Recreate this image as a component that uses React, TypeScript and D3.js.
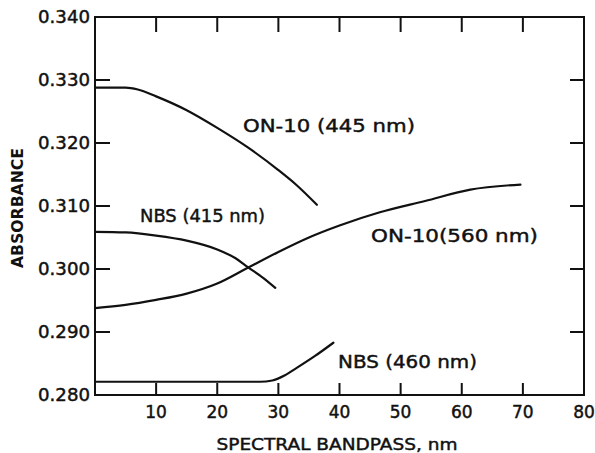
import React from "react";
import * as d3 from "d3";

const xTicks = [10, 20, 30, 40, 50, 60, 70, 80];
const yTicks = [0.28, 0.29, 0.3, 0.31, 0.32, 0.33, 0.34];
const yTickLabels = ["0.280", "0.290", "0.300", "0.310", "0.320", "0.330", "0.340"];

const on10_445: [number, number][] = [[0, 0.3288], [5, 0.3288], [7, 0.3285], [10, 0.3274], [15, 0.3252], [20, 0.3224], [25, 0.3193], [30, 0.3157], [33, 0.3133], [36.3, 0.3102]];
const nbs415: [number, number][] = [[0, 0.3059], [5, 0.3058], [10, 0.3053], [15, 0.3045], [20, 0.3031], [23, 0.3017], [25, 0.3003], [27.5, 0.2986], [29.5, 0.297]];
const on10_560: [number, number][] = [[0, 0.2938], [5, 0.2943], [10, 0.2951], [15, 0.2961], [20, 0.2977], [25, 0.3002], [30, 0.3027], [35, 0.305], [40, 0.3069], [46.6, 0.309], [54, 0.3108], [61.4, 0.3126], [69.6, 0.3134]];
const nbs460: [number, number][] = [[0, 0.2821], [27, 0.2821], [29, 0.2823], [31, 0.2831], [33, 0.2843], [36, 0.2862], [39, 0.2883]];

const seriesLabels = [
  { text: "ON-10 (445 nm)", x: 243, y: 132, w: 172 },
  { text: "NBS (415 nm)", x: 140, y: 222, w: 125 },
  { text: "ON-10(560 nm)", x: 371, y: 242, w: 167 },
  { text: "NBS (460 nm)", x: 338, y: 368, w: 139 },
];

export default function App() {
  const L = 95, R = 584, T = 17, B = 395;
  const x = d3.scaleLinear().domain([0, 80]).range([L, R]);
  const y = d3.scaleLinear().domain([0.28, 0.34]).range([B, T]);
  const line = d3.line<[number, number]>().x(d => x(d[0])).y(d => y(d[1])).curve(d3.curveMonotoneX);
  const font = "'DejaVu Sans', sans-serif";
  const series = [on10_445, nbs415, on10_560, nbs460];
  const ts = { fill: "#111", stroke: "#111", strokeWidth: 0.45 };
  return (
    <svg width={595} height={453} style={{ position: "absolute", left: 0, top: 0, background: "#fff" }}>
      <rect x={0} y={0} width={595} height={453} fill="#fff" />
      <rect x={L} y={T} width={R - L} height={B - T} fill="none" stroke="#111" strokeWidth={2} />
      {xTicks.filter(t => t < 80).map(t => (
        <g key={"xt" + t}>
          <line x1={x(t)} x2={x(t)} y1={T} y2={T + 15} stroke="#111" strokeWidth={2} />
          <line x1={x(t)} x2={x(t)} y1={B} y2={B - 12} stroke="#111" strokeWidth={2} />
        </g>
      ))}
      {xTicks.map(t => (
        <text key={"xl" + t} x={x(t)} y={418} textAnchor="middle" fontFamily={font} fontSize={17} {...ts}>{t}</text>
      ))}
      {yTicks.slice(1, -1).map(t => (
        <g key={"yt" + t}>
          <line x1={L} x2={L + 15} y1={y(t)} y2={y(t)} stroke="#111" strokeWidth={2} />
          <line x1={R} x2={R - 14} y1={y(t)} y2={y(t)} stroke="#111" strokeWidth={2} />
        </g>
      ))}
      {yTicks.map((t, i) => (
        <text key={"yl" + t} x={90} y={y(t) + 6} textAnchor="end" fontFamily={font} fontSize={17} {...ts} textLength={52} lengthAdjust="spacingAndGlyphs">{yTickLabels[i]}</text>
      ))}
      {series.map((s, i) => (
        <path key={"s" + i} d={line(s) || ""} fill="none" stroke="#111" strokeWidth={2.2} strokeLinecap="round" />
      ))}
      {seriesLabels.map(l => (
        <text key={l.text} x={l.x} y={l.y} fontFamily={font} fontSize={18} {...ts} textLength={l.w} lengthAdjust="spacingAndGlyphs">{l.text}</text>
      ))}
      <text x={337} y={450} textAnchor="middle" fontFamily={font} fontSize={16} {...ts} textLength={241} lengthAdjust="spacingAndGlyphs">SPECTRAL BANDPASS, nm</text>
      <text transform="translate(23,208) rotate(-90)" textAnchor="middle" fontFamily={font} fontSize={15} fontWeight="bold" fill="#111" textLength={120} lengthAdjust="spacingAndGlyphs">ABSORBANCE</text>
    </svg>
  );
}
